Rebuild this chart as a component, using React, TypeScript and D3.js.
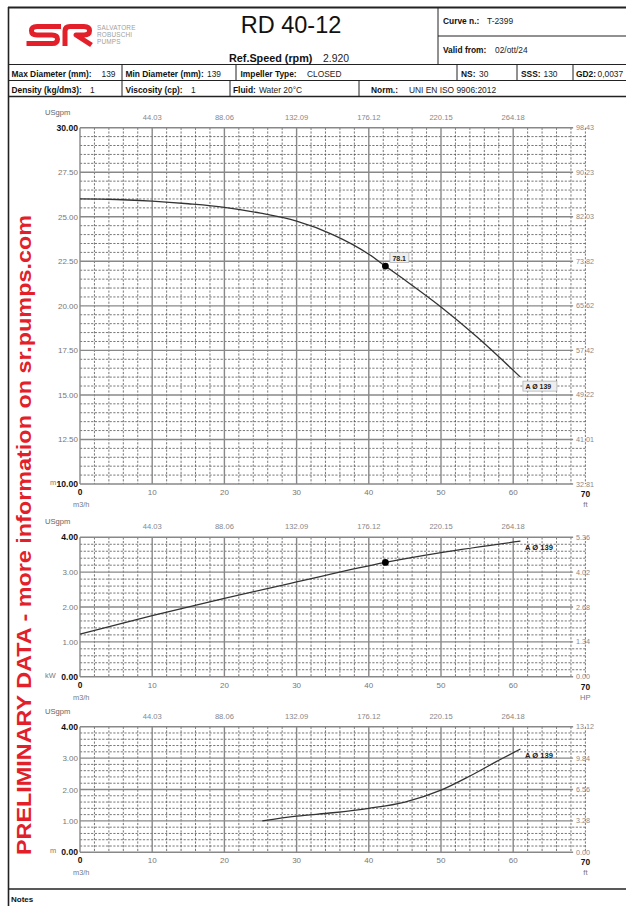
import React from "react";
import * as d3 from "d3";

// ---------- data ----------
const flowTicks = [0, 10, 20, 30, 40, 50, 60, 70];
const usgpmFlows = [10, 20, 30, 40, 50, 60];
const usgpmLabels = ["44.03", "88.06", "132.09", "176.12", "220.15", "264.18"];

const headTicks = [30, 27.5, 25, 22.5, 20, 17.5, 15, 12.5, 10];
const headLabels = ["30.00", "27.50", "25.00", "22.50", "20.00", "17.50", "15.00", "12.50", "10.00"];
const headFtLabels = ["98.43", "90.23", "82.03", "73.82", "65.62", "57.42", "49.22", "41.01", "32.81"];
const headQ = [0, 5, 10, 15, 20, 25, 30, 35, 40, 42.3, 45, 50, 55, 61];
const headH = [26.0, 25.97, 25.88, 25.73, 25.53, 25.2, 24.75, 24.0, 22.9, 22.23, 21.45, 19.94, 18.25, 16.0];

const powerTicks = [4, 3, 2, 1, 0];
const powerLabels = ["4.00", "3.00", "2.00", "1.00", "0.00"];
const powerHpLabels = ["5.36", "4.02", "2.68", "1.34", "0.00"];
const powerQ = [0, 10, 20, 30, 42.3, 50, 61];
const powerP = [1.22, 1.75, 2.25, 2.72, 3.28, 3.56, 3.89];

const npshTicks = [4, 3, 2, 1, 0];
const npshLabels = ["4.00", "3.00", "2.00", "1.00", "0.00"];
const npshFtLabels = ["13.12", "9.84", "6.56", "3.28", "0.00"];
const npshQ = [25.25, 30, 35, 40, 45, 50, 54, 58, 61];
const npshV = [1.0, 1.15, 1.26, 1.4, 1.6, 1.98, 2.43, 2.93, 3.29];

const dutyQ = 42.3;
const dutyLabel = "78.1";
const curveLabel = "A Ø 139";

// ---------- layout ----------
const W = 626;
const H = 906;
const FONT = "'Liberation Sans', Arial, Helvetica, sans-serif";
const RED = "#e3202a";
const x = d3.scaleLinear().domain([0, 70]).range([80, 585.4]);
const FRAME_END = 68.3;

type PanelProps = {
  yTop: number;
  yBottom: number;
  domain: [number, number];
  ticks: number[];
  labels: string[];
  rightLabels: string[];
  minorStep: number;
  leftUnit: string;
  leftUnitX: number;
  rightUnit: string;
  q: number[];
  v: number[];
  duty?: boolean;
  boxed: boolean;
};

function Panel(p: PanelProps) {
  const y = d3.scaleLinear().domain(p.domain).range([p.yBottom, p.yTop]);
  const [lo, hi] = p.domain;
  const minors = d3
    .range(lo, hi + 1e-6, p.minorStep)
    .filter((t) => !p.ticks.some((m) => Math.abs(m - t) < 1e-6));
  const vMinor = d3.range(2, 70.01, 2).filter((t) => t % 10 !== 0 || t === 70);
  const vMajor = [0, 10, 20, 30, 40, 50, 60];
  const line = d3
    .line<number>()
    .x((_, i) => x(p.q[i]))
    .y((d) => y(d))
    .curve(d3.curveMonotoneX);
  const endX = x(p.q[p.q.length - 1]);
  const endY = y(p.v[p.v.length - 1]);
  const dutyV = p.duty ? p.v[p.q.indexOf(dutyQ)] : 0;
  return (
    <g fontFamily={FONT}>
      {minors.map((t) => (
        <line key={"mh" + t} x1={x(0)} x2={x(70)} y1={y(t)} y2={y(t)} stroke="#4a4a4a" strokeWidth={0.75} strokeDasharray="2.2,1.5" />
      ))}
      {vMinor.map((t) => (
        <line key={"mv" + t} x1={x(t)} x2={x(t)} y1={p.yTop} y2={p.yBottom} stroke="#4a4a4a" strokeWidth={0.75} strokeDasharray="2.2,1.5" />
      ))}
      {vMajor.map((t) => (
        <line key={"Mv" + t} x1={x(t)} x2={x(t)} y1={p.yTop} y2={p.yBottom} stroke="#888" strokeWidth={1.4} />
      ))}
      {p.ticks.map((t) => (
        <line key={"Mh" + t} x1={x(0)} x2={x(FRAME_END)} y1={y(t)} y2={y(t)} stroke="#888" strokeWidth={1.4} />
      ))}
      {p.ticks.map((t, i) => {
        const edge = i === 0 || i === p.ticks.length - 1;
        return (
          <text key={"ll" + t} x={78} y={y(t) + 3} textAnchor="end" fontSize={edge ? 8.6 : 8} fontWeight={edge ? "bold" : "normal"} fill={edge ? "#111" : "#777"}>
            {p.labels[i]}
          </text>
        );
      })}
      {p.ticks.map((t, i) => (
        <text key={"rl" + t} x={576} y={y(t) + 2.5} fontSize={7.2} fill="#8a8a8a">
          {p.rightLabels[i]}
        </text>
      ))}
      <text x={45} y={p.yTop - 13} fontSize={7.6} fill="#666">USgpm</text>
      {usgpmFlows.map((f, i) => (
        <text key={"tu" + f} x={x(f)} y={p.yTop - 8} textAnchor="middle" fontSize={7.6} fill="#888">
          {usgpmLabels[i]}
        </text>
      ))}
      {flowTicks.map((f) => {
        const edge = f === 0 || f === 70;
        return (
          <text key={"bf" + f} x={x(f)} y={p.yBottom + (f === 70 ? 13 : 11)} textAnchor="middle" fontSize={edge ? 8.4 : 8} fontWeight={edge ? "bold" : "normal"} fill={edge ? "#111" : "#777"}>
            {f}
          </text>
        );
      })}
      <text x={73} y={p.yBottom + 23} fontSize={7.4} fill="#777">m3/h</text>
      <text x={x(70)} y={p.yBottom + 23} textAnchor="middle" fontSize={7.6} fill="#777">{p.rightUnit}</text>
      <text x={p.leftUnitX} y={p.yBottom + 1} fontSize={7.4} fill="#777">{p.leftUnit}</text>
      <path d={line(p.v) || ""} fill="none" stroke="#333" strokeWidth={1.3} />
      {p.duty && <circle cx={x(dutyQ)} cy={y(dutyV)} r={3.4} fill="#000" />}
      {p.duty && p.boxed && (
        <g>
          <rect x={x(dutyQ) + 4.5} y={y(dutyV) - 13.5} width={19} height={10} fill="#eee" stroke="#aaa" strokeWidth={0.7} />
          <text x={x(dutyQ) + 7} y={y(dutyV) - 5.5} fontSize={7} fontWeight="bold" fill="#222">{dutyLabel}</text>
        </g>
      )}
      {p.boxed ? (
        <g>
          <rect x={endX + 2.5} y={endY + 4} width={34} height={10} fill="#eee" stroke="#aaa" strokeWidth={0.7} />
          <text x={endX + 5} y={endY + 12} fontSize={7} fontWeight="bold" fill="#222">{curveLabel}</text>
        </g>
      ) : (
        <text x={endX + 4.5} y={endY + 9} fontSize={7.6} fontWeight="bold" fill="#222">{curveLabel}</text>
      )}
    </g>
  );
}

function Header() {
  const lab = (t: string, xx: number, yy: number, size = 8.4) => (
    <text x={xx} y={yy} fontSize={size} fontWeight="bold" fill="#111">{t}</text>
  );
  const val = (t: string, xx: number, yy: number, size = 8.4) => (
    <text x={xx} y={yy} fontSize={size} fill="#222">{t}</text>
  );
  return (
    <g fontFamily={FONT}>
      <line x1={8} x2={W + 10} y1={7.5} y2={7.5} stroke="#222" strokeWidth={1.8} />
      <line x1={8.5} x2={8.5} y1={7} y2={H} stroke="#222" strokeWidth={1.6} />
      <line x1={438} x2={438} y1={7} y2={64.5} stroke="#222" strokeWidth={1} />
      <line x1={438} x2={W + 10} y1={36} y2={36} stroke="#222" strokeWidth={1} />
      <line x1={8} x2={W + 10} y1={64.5} y2={64.5} stroke="#222" strokeWidth={1.2} />
      <line x1={8} x2={W + 10} y1={80.5} y2={80.5} stroke="#222" strokeWidth={1} />
      <line x1={8} x2={W + 10} y1={96.5} y2={96.5} stroke="#222" strokeWidth={1.4} />
      {[122, 236, 457, 517, 573].map((v) => (
        <line key={"r2" + v} x1={v} x2={v} y1={64.5} y2={80.5} stroke="#222" strokeWidth={1} />
      ))}
      {[122, 230, 359].map((v) => (
        <line key={"r3" + v} x1={v} x2={v} y1={80.5} y2={96.5} stroke="#222" strokeWidth={1} />
      ))}
      <line x1={8} x2={W + 10} y1={889} y2={889} stroke="#222" strokeWidth={1.6} />
      <text x={11} y={902} fontSize={8} fontWeight="bold" fill="#111">Notes</text>

      <g fill="none" stroke={RED} strokeWidth={5} strokeLinejoin="round">
        <path d="M 61 26.5 L 37 26.5 Q 31.5 26.5 31.5 30.8 Q 31.5 35 37 35 L 52 35 Q 57.5 35 57.5 39.2 Q 57.5 43.5 52 43.5 L 26.5 43.5" />
        <path d="M 65 46 L 65 31 Q 65 26.5 70 26.5 L 84 26.5 Q 89.5 26.5 89.5 30.8 Q 89.5 35 84 35 L 76 35 L 91.5 45" />
      </g>
      {["SALVATORE", "ROBUSCHI", "PUMPS"].map((t, i) => (
        <text key={t} x={97} y={30 + i * 7} fontSize={6.4} fill="#a0a0a0" letterSpacing={0.2}>{t}</text>
      ))}

      <text x={291} y={33} textAnchor="middle" fontSize={23.5} fill="#111">RD 40-12</text>
      <text x={229} y={61.5} fontSize={10.8} fontWeight="bold" fill="#111">Ref.Speed (rpm)</text>
      <text x={323} y={61.5} fontSize={10.4} fill="#222">2.920</text>

      {lab("Curve n.:", 443, 24)}
      {val("T-2399", 487, 24)}
      {lab("Valid from:", 443, 53)}
      {val("02/ott/24", 495, 53)}

      {lab("Max Diameter (mm):", 11.5, 76.5)}
      {val("139", 101.5, 76.5)}
      {lab("Min Diameter (mm):", 125.5, 76.5)}
      {val("139", 207, 76.5)}
      {lab("Impeller Type:", 240.5, 76.5)}
      {val("CLOSED", 307, 76.5)}
      {lab("NS:", 461, 76.5)}
      {val("30", 479, 76.5)}
      {lab("SSS:", 521, 76.5)}
      {val("130", 543.5, 76.5)}
      {lab("GD2:", 576, 76.5)}
      {val("0,0037", 597.5, 76.5)}

      {lab("Density (kg/dm3):", 11.5, 92.5)}
      {val("1", 90, 92.5)}
      {lab("Viscosity (cp):", 125.5, 92.5)}
      {val("1", 191, 92.5)}
      {lab("Fluid:", 233, 92.5)}
      {val("Water 20°C", 259, 92.5)}
      {lab("Norm.:", 371, 92.5)}
      {val("UNI EN ISO 9906:2012", 409, 92.5)}
    </g>
  );
}

export default function App() {
  return (
    <svg
      width={W}
      height={H}
      viewBox={`0 0 ${W} ${H}`}
      style={{ position: "absolute", left: 0, top: 0, background: "#fff" }}
    >
      <rect x={0} y={0} width={W} height={H} fill="#fff" />
      <Header />
      <Panel
        yTop={127.7}
        yBottom={484}
        domain={[10, 30]}
        ticks={headTicks}
        labels={headLabels}
        rightLabels={headFtLabels}
        minorStep={0.5}
        leftUnit="m"
        leftUnitX={50}
        rightUnit="ft"
        q={headQ}
        v={headH}
        duty
        boxed
      />
      <Panel
        yTop={537.3}
        yBottom={676.7}
        domain={[0, 4]}
        ticks={powerTicks}
        labels={powerLabels}
        rightLabels={powerHpLabels}
        minorStep={0.2}
        leftUnit="kW"
        leftUnitX={45}
        rightUnit="HP"
        q={powerQ}
        v={powerP}
        duty
        boxed={false}
      />
      <Panel
        yTop={726.7}
        yBottom={852.3}
        domain={[0, 4]}
        ticks={npshTicks}
        labels={npshLabels}
        rightLabels={npshFtLabels}
        minorStep={0.2}
        leftUnit="m"
        leftUnitX={50}
        rightUnit="ft"
        q={npshQ}
        v={npshV}
        boxed={false}
      />
      <text
        transform="translate(31,535) rotate(-90)"
        textAnchor="middle"
        fontFamily={FONT}
        fontWeight="bold"
        fontSize={21}
        fill={RED}
        textLength={640}
        lengthAdjust="spacingAndGlyphs"
      >
        PRELIMINARY DATA - more information on sr.pumps.com
      </text>
    </svg>
  );
}
